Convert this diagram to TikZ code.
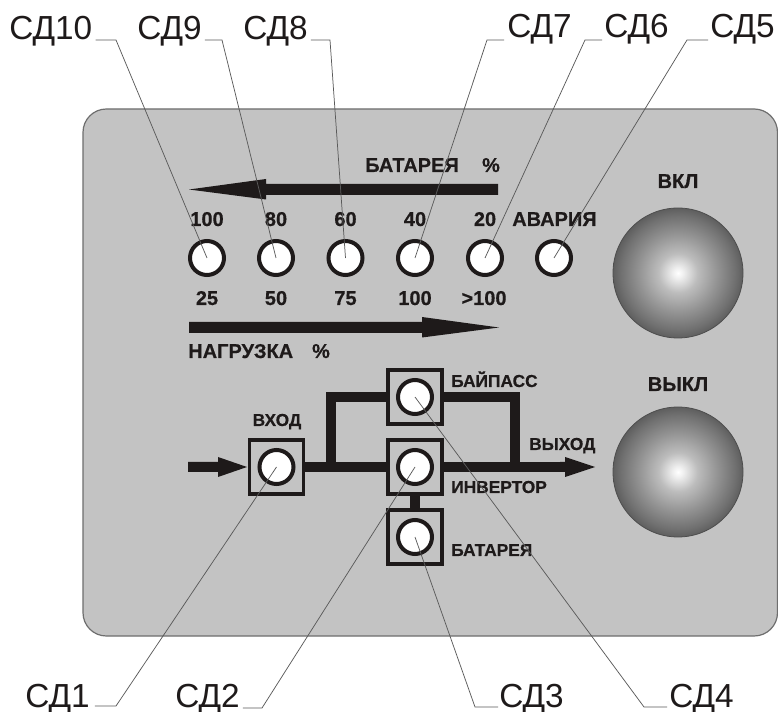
\documentclass[tikz,border=0pt]{standalone}
\usepackage{fontspec}
\setmainfont{Liberation Sans}[BoldFeatures={FakeBold=0.5}]
\usetikzlibrary{calc}
\definecolor{ink}{HTML}{1E1A1A}
\definecolor{panelgray}{HTML}{C3C3C3}
\definecolor{rimgray}{HTML}{6E6E6E}
\definecolor{leadgray}{HTML}{5A5A5A}
\pgfdeclareradialshading{sphereshade}{\pgfpoint{0bp}{0bp}}{%
 color(0bp)=(white); color(2bp)=(white!94!black); color(7.5bp)=(white!74!black);
 color(15bp)=(white!58!black); color(22bp)=(white!44!black); color(25bp)=(white!37!black); color(50bp)=(white!37!black)}
\tikzset{
 x=0.75pt,y=-0.75pt,
 lamp/.style={circle,draw=ink,line width=3pt,fill=white,minimum size=25.5pt,inner sep=0pt},
 sqbox/.style={rectangle,draw=ink,line width=2.3pt,fill=panelgray,minimum size=40.5pt,inner sep=0pt},
 sphere/.style={circle,draw=rimgray!70!black,line width=0.6pt,shading=sphereshade,minimum size=97.5pt,inner sep=0pt},
 callout/.style={anchor=base west,inner sep=0pt,text=ink,font=\fontsize{25pt}{27pt}\selectfont},
 biglabel/.style={inner sep=0pt,text=ink,font=\bfseries\fontsize{15pt}{16pt}\selectfont},
 smalllabel/.style={inner sep=0pt,text=ink,font=\bfseries\fontsize{13pt}{14pt}\selectfont},
 leader/.style={draw=leadgray,line width=0.55pt},
 wire/.style={draw=ink,line width=7.3pt},
 flow/.style={fill=ink,draw=none},
}
\begin{document}
\begin{tikzpicture}
\useasboundingbox (0,0) rectangle (778,712);
\fill[white] (0,0) rectangle (778,712);
\draw[rimgray,line width=0.9pt,fill=panelgray,rounded corners=17.5pt] (83,109) rectangle (777.5,636);

% bold labels
\node[biglabel,anchor=base west] (tbat) at (365,172) {БАТАРЕЯ};
\node[biglabel,anchor=base] (tbatp) at (491,172) {\%};
\node[biglabel,anchor=base] (a100) at (207,226) {100};
\node[biglabel,anchor=base] (a80) at (276,226) {80};
\node[biglabel,anchor=base] (a60) at (345.5,226) {60};
\node[biglabel,anchor=base] (a40) at (415,226) {40};
\node[biglabel,anchor=base] (a20) at (485,226) {20};
\node[biglabel,anchor=base west] (tav) at (512,226) {АВАРИЯ};
\node[biglabel,anchor=base] (b25) at (207,305) {25};
\node[biglabel,anchor=base] (b50) at (276,305) {50};
\node[biglabel,anchor=base] (b75) at (345.5,305) {75};
\node[biglabel,anchor=base] (b100) at (415,305) {100};
\node[biglabel,anchor=base] (b101) at (484,305) {>100};
\node[biglabel,anchor=base west] (tnag) at (188,358) {НАГРУЗКА};
\node[biglabel,anchor=base] (tnagp) at (321,358) {\%};
\node[biglabel,anchor=base] (tvkl) at (678,188) {ВКЛ};
\node[biglabel,anchor=base] (tvykl) at (678,391) {ВЫКЛ};

% flow arrows
\path[flow] (498,184) -- (266,184) -- (266,179) -- (189,189.5) -- (266,199.5) -- (266,195) -- (498,195) -- cycle;
\path[flow] (189,322) -- (422,322) -- (422,317) -- (499,327.5) -- (422,337.5) -- (422,333) -- (189,333) -- cycle;

% wires
\draw[wire] (305,467) -- (565,467);
\draw[wire,line join=miter] (331,467) -- (331,397) -- (515,397) -- (515,467);
\draw[wire] (415,467) -- (415,537);
\path[flow] (188,462) -- (218,462) -- (218,457) -- (247,467) -- (218,477) -- (218,472) -- (188,472) -- cycle;
\path[flow] (565,462) -- (565,457) -- (595,467) -- (565,477) -- (565,472) -- (560,472) -- (560,462) -- cycle;

% boxes
\node[sqbox] (bin) at (276.5,467) {};
\node[sqbox] (binv) at (415,467) {};
\node[sqbox] (bbyp) at (415,397) {};
\node[sqbox] (bbat) at (415,537) {};

% lamps
\node[lamp] (d10) at (207,258) {};
\node[lamp] (d9) at (276,258) {};
\node[lamp] (d8) at (345.5,258) {};
\node[lamp] (d7) at (415,258) {};
\node[lamp] (d6) at (485,258) {};
\node[lamp] (d5) at (554,258) {};
\node[lamp] (d1) at (276.5,467) {};
\node[lamp] (d2) at (415,467) {};
\node[lamp] (d4) at (415,397) {};
\node[lamp] (d3) at (415,537) {};

% spheres
\node[sphere] (on) at (678,273) {};
\node[sphere] (off) at (678,472) {};

% diagram labels
\node[smalllabel,anchor=base] (tin) at (277,426) {ВХОД};
\node[smalllabel,anchor=base west] (tbyp) at (451,387) {БАЙПАСС};
\node[smalllabel,anchor=base west] (tout) at (529,450) {ВЫХОД};
\node[smalllabel,anchor=base west] (tinv) at (451,493) {ИНВЕРТОР};
\node[smalllabel,anchor=base west] (tbb) at (451,556) {БАТАРЕЯ};

% callouts
\node[callout] (l10) at (9,40) {СД10};
\node[callout] (l9) at (137,40) {СД9};
\node[callout] (l8) at (243,40) {СД8};
\node[callout] (l7) at (507,38) {СД7};
\node[callout] (l6) at (604,38) {СД6};
\node[callout] (l5) at (710,38) {СД5};
\node[callout] (l1) at (25,707) {СД1};
\node[callout] (l2) at (175,707) {СД2};
\node[callout] (l3) at (499,707) {СД3};
\node[callout] (l4) at (669,707) {СД4};

\coordinate (e10) at (116,40);
\coordinate (e9) at (222,40);
\coordinate (e8) at (330,40);
\coordinate (e7) at (487,40);
\coordinate (e6) at (585,40);
\coordinate (e5) at (687,40);
\coordinate (e1) at (116,706);
\coordinate (e2) at (262,708);
\coordinate (e3) at (475,707);
\coordinate (e4) at (644,707);

\draw[leader] (d10.center) -- (e10) -- ($(l10.base east)+(3,0)$);
\draw[leader] (d9.center) -- (e9) -- ($(l9.base east)+(3,0)$);
\draw[leader] (d8.center) -- (e8) -- ($(l8.base east)+(3,0)$);
\draw[leader] (d7.center) -- (e7) -- ($(l7.base west)+(-3,2)$);
\draw[leader] (d6.center) -- (e6) -- ($(l6.base west)+(-2,2)$);
\draw[leader] (d5.center) -- (e5) -- ($(l5.base west)+(-2,2)$);
\draw[leader] (d1.center) -- (e1) -- ($(l1.base east)+(5,-1)$);
\draw[leader] (d2.center) -- (e2) -- ($(l2.base east)+(3,1)$);
\draw[leader] (d3.center) -- (e3) -- ($(l3.base west)+(-1,0)$);
\draw[leader] (d4.center) -- (e4) -- ($(l4.base west)+(-2,0)$);
\end{tikzpicture}
\end{document}
